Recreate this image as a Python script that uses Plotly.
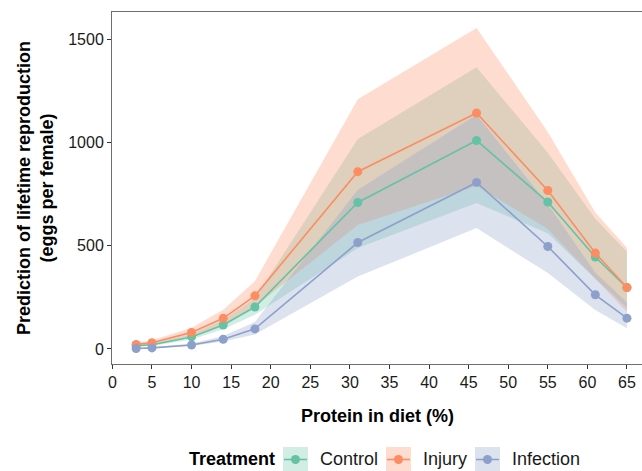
import plotly.graph_objects as go

protein = [3, 5, 10, 14, 18, 31, 46, 55, 61, 65]

control_mean = [15, 20, 58, 116, 203, 709, 1009, 711, 445, 297]
control_lo = [10, 14, 45, 95, 165, 488, 706, 560, 340, 200]
control_hi = [22, 28, 72, 140, 245, 1016, 1363, 950, 630, 470]

injury_mean = [22, 30, 80, 148, 257, 858, 1142, 767, 464, 297]
injury_lo = [15, 22, 62, 118, 205, 600, 790, 580, 340, 180]
injury_hi = [32, 42, 102, 190, 328, 1209, 1554, 1050, 660, 490]

infection_mean = [2, 5, 19, 47, 97, 515, 806, 496, 262, 149]
infection_lo = [1, 3, 14, 36, 70, 350, 585, 367, 189, 100]
infection_hi = [4, 8, 26, 62, 130, 770, 1134, 700, 370, 225]

groups = ["Control", "Injury", "Infection"]
colors = {"Control": "#66C2A5", "Injury": "#FC8D62", "Infection": "#8DA0CB"}
fills = {"Control": "rgba(102,194,165,0.3)", "Injury": "rgba(252,141,98,0.3)",
         "Infection": "rgba(141,160,203,0.3)"}
data = {
    "Control": (control_mean, control_lo, control_hi),
    "Injury": (injury_mean, injury_lo, injury_hi),
    "Infection": (infection_mean, infection_lo, infection_hi),
}

FONT = "Liberation Sans, Arial, sans-serif"
W, H = 642, 471
L, R, T, B = 112, 0, 12, 107
PW, PH = W - L - R, H - T - B

fig = go.Figure()
for g in groups:
    m, lo, hi = data[g]
    fig.add_trace(go.Scatter(x=protein, y=lo, mode="lines", line=dict(width=0),
                             showlegend=False, hoverinfo="skip"))
    fig.add_trace(go.Scatter(x=protein, y=hi, mode="lines", line=dict(width=0),
                             fill="tonexty", fillcolor=fills[g], showlegend=False,
                             hoverinfo="skip"))
for g in groups:
    m, lo, hi = data[g]
    fig.add_trace(go.Scatter(x=protein, y=m, mode="lines+markers", name=g,
                             line=dict(color=colors[g], width=1.6),
                             marker=dict(color=colors[g], size=9),
                             showlegend=False))

axis_common = dict(showgrid=False, zeroline=False, showline=True, linecolor="#6e6e6e",
                   linewidth=1, ticks="outside", ticklen=4, tickcolor="#333333",
                   tickfont=dict(family=FONT, size=16, color="#1a1a1a"))
fig.update_xaxes(range=[-0.05, 66.9], tickmode="array",
                 tickvals=list(range(0, 70, 5)), mirror=True, **axis_common)
fig.update_yaxes(range=[-73, 1631], tickvals=[0, 500, 1000, 1500], **axis_common)


def px(xp):
    return (xp - L) / PW


def py(yp):
    return (H - B - yp) / PH


LEG_Y = 459
annotations = [
    dict(text="<b>Protein in diet (%)</b>", x=px(377), y=py(416), xref="paper", yref="paper",
         xanchor="center", yanchor="middle",
         showarrow=False, font=dict(family=FONT, size=18, color="black")),
    dict(text="<b>Prediction of lifetime reproduction<br>(eggs per female)</b>",
         x=px(35), y=py(188), xref="paper", yref="paper", textangle=-90,
         xanchor="center", yanchor="middle",
         showarrow=False, font=dict(family=FONT, size=18, color="black")),
    dict(text="<b>Treatment</b>", x=px(187), y=py(LEG_Y), xref="paper", yref="paper",
         xanchor="left", yanchor="middle", showarrow=False,
         font=dict(family=FONT, size=18, color="black")),
]
shapes = []
legend_pos = {"Control": (283, 318), "Injury": (386, 421), "Infection": (475, 510)}
for g in groups:
    bx, tx = legend_pos[g]
    shapes.append(dict(type="rect", xref="paper", yref="paper", x0=px(bx), x1=px(bx + 25),
                       y0=py(LEG_Y - 12), y1=py(LEG_Y + 14), fillcolor=fills[g],
                       line=dict(width=0)))
    shapes.append(dict(type="line", xref="paper", yref="paper", x0=px(bx + 1), x1=px(bx + 24),
                       y0=py(LEG_Y + 0.5), y1=py(LEG_Y + 0.5),
                       line=dict(color=colors[g], width=1.6)))
    shapes.append(dict(type="circle", xref="paper", yref="paper", x0=px(bx + 8), x1=px(bx + 17),
                       y0=py(LEG_Y - 4), y1=py(LEG_Y + 5), fillcolor=colors[g],
                       line=dict(width=0)))
    annotations.append(dict(text=g, x=px(tx), y=py(LEG_Y), xref="paper", yref="paper",
                            xanchor="left", yanchor="middle", showarrow=False,
                            font=dict(family=FONT, size=18, color="#1a1a1a")))

fig.update_layout(width=W, height=H, margin=dict(l=L, r=R, t=T, b=B),
                  paper_bgcolor="white", plot_bgcolor="white", showlegend=False,
                  annotations=annotations, shapes=shapes)

fig.write_html("out.html", config={"displayModeBar": False},
               post_script="document.body.style.margin='0';document.body.style.overflow='hidden';")
